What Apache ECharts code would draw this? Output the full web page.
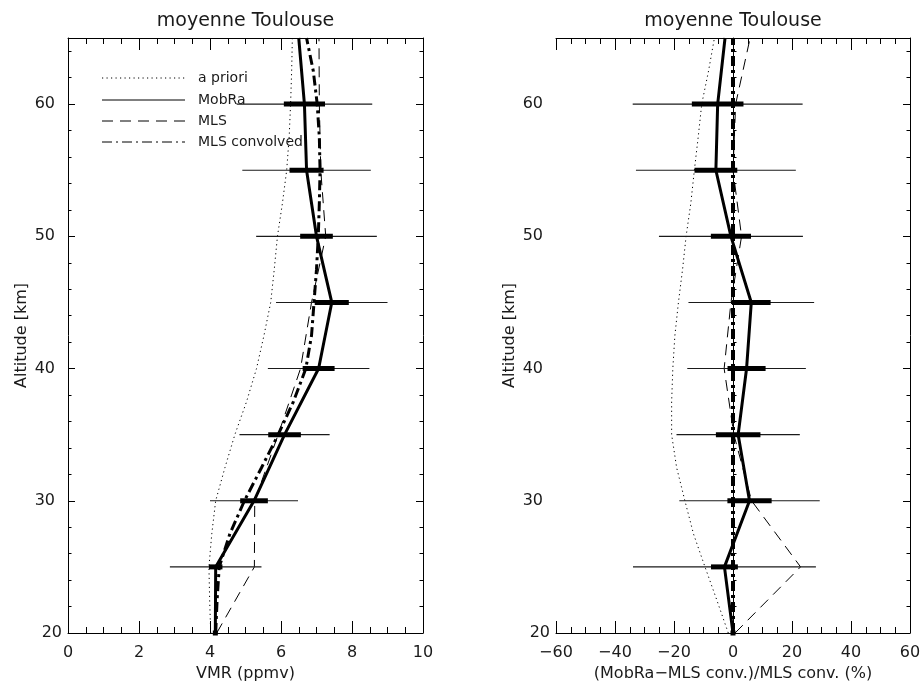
<!DOCTYPE html>
<html>
<head>
<meta charset="utf-8">
<script src="https://cdn.jsdelivr.net/npm/echarts@6/dist/echarts.min.js"></script>
<style>html,body{margin:0;padding:0;background:#fff;}#c{width:922px;height:685px;}</style>
</head>
<body>
<div id="c"></div>
<script>
// ---------------- data ----------------
const altCoarse = [20, 25, 30, 35, 40, 45, 50, 55, 60, 65];
const altFine = [20, 22.5, 25, 27.5, 30, 32.5, 35, 37.5, 40, 42.5, 45, 47.5, 50, 52.5, 55, 57.5, 60, 62.5, 65];

// left panel: VMR (ppmv)
const aprioriVmr = [4.02, 3.99, 3.97, 4.05, 4.16, 4.42, 4.70, 5.03, 5.31, 5.52, 5.71, 5.81, 5.90, 6.04, 6.16, 6.23, 6.27, 6.30, 6.32];
const mobraVmr = [4.15, 4.16, 5.24, 6.10, 7.06, 7.43, 7.00, 6.72, 6.66, 6.50];
const mlsVmr = [4.19, 5.25, 5.26, 5.92, 6.55, 6.86, 7.26, 7.12, 7.08, 7.07];
const mlsConvVmr = [4.16, 4.20, 4.26, 4.56, 4.97, 5.45, 5.92, 6.35, 6.70, 6.86, 6.93, 7.00, 7.05, 7.08, 7.10, 7.08, 7.02, 6.91, 6.72];

// error bars (half widths) at these altitudes
const errAlt = [20, 25, 30, 35, 40, 45, 50, 55, 60];
const errTotalVmr = [0, 1.29, 1.24, 1.27, 1.43, 1.57, 1.70, 1.81, 1.91];
const errRandVmr = [0, 0.19, 0.39, 0.46, 0.45, 0.48, 0.46, 0.48, 0.58];

// right panel: relative difference (%)
const aprioriPct = [-1.6, -5.5, -9.5, -13.4, -16.3, -19.1, -20.8, -20.8, -20.4, -19.7, -18.5, -17.1, -15.9, -14.3, -13.1, -11.8, -10.6, -8.3, -6.3];
const mobraPct = [0, -2.9, 5.6, 1.75, 4.6, 6.2, -0.7, -5.8, -5.2, -2.7];
const mlsPct = [0.7, 22.9, 6.3, 0.3, -3.0, -0.7, 2.9, 0.0, 0.9, 5.8];
const mlsConvPct = [0, 0, 0, 0, 0, 0, 0, 0, 0, 0];
const errTotalPct = [0, 31.0, 23.8, 20.9, 20.1, 21.3, 24.4, 27.1, 28.8];
const errRandPct = [0, 4.55, 7.5, 7.55, 6.45, 6.55, 6.8, 7.25, 8.75];

// labels
const titleText = 'moyenne Toulouse';
const yName = 'Altitude [km]';
const xNameLeft = 'VMR (ppmv)';
const xNameRight = '(MobRa\u2212MLS conv.)/MLS conv. (%)';
const legendNames = ['a priori', 'MobRa', 'MLS', 'MLS convolved'];

// ---------------- chart ----------------
const FONT = 'DejaVu Sans';
const FW = 'normal';
const INK = '#1a1a1a';
const chart = echarts.init(document.getElementById('c'), null, {renderer: 'canvas'});

const pair = (vals, alts) => vals.map((v, i) => [v, alts[i]]);
const errData = (center, tot, rnd) => errAlt.map((a, i) => [a, center[altCoarse.indexOf(a)], tot[i], rnd[i]]);

function xAxes(gridIndex, min, max, interval, name) {
  const common = {
    type: 'value', gridIndex, min, max, interval,
    axisLine: {show: true, lineStyle: {color: '#000', width: 1}},
    axisTick: {show: true, inside: true, length: 12, lineStyle: {color: '#000', width: 1}},
    minorTick: {show: true, splitNumber: 4, length: 6, lineStyle: {color: '#000', width: 1}},
    splitLine: {show: false}
  };
  return [
    Object.assign({}, common, {
      position: 'bottom',
      name, nameLocation: 'middle', nameGap: 33,
      nameTextStyle: {fontFamily: FONT, fontWeight: FW, fontSize: 16, color: INK},
      axisLabel: {show: true, margin: 12, fontFamily: FONT, fontWeight: FW, fontSize: 16, color: INK,
        formatter: v => String(v).replace('-', '\u2212')}
    }),
    Object.assign({}, common, {position: 'top', axisLabel: {show: false}})
  ];
}

function yAxes(gridIndex) {
  const base = {
    type: 'value', gridIndex, min: 20, max: 65,
    splitLine: {show: false}, minorTick: {show: false}
  };
  const major = {interval: 10, axisTick: {show: true, inside: true, length: 7, lineStyle: {color: '#000'}}};
  const minor = {interval: 2, axisLine: {show: false}, axisLabel: {show: false},
    axisTick: {show: true, inside: true, length: 3.5, lineStyle: {color: '#000'}}};
  return [
    Object.assign({}, base, major, {
      position: 'left',
      axisLine: {show: true, lineStyle: {color: '#000', width: 1}},
      name: yName, nameLocation: 'middle', nameGap: 38, nameRotate: 90,
      nameTextStyle: {fontFamily: FONT, fontWeight: FW, fontSize: 16, color: INK},
      axisLabel: {show: true, margin: 6, showMaxLabel: false, fontFamily: FONT, fontWeight: FW, fontSize: 16, color: INK,
        formatter: v => v === 20 ? '{a|20}' : '{b|' + v + '}',
        rich: {a: {fontFamily: FONT, fontWeight: FW, fontSize: 16, color: INK},
               b: {fontFamily: FONT, fontWeight: FW, fontSize: 16, color: INK, padding: [0, 7, 0, 0]}}}
    }),
    Object.assign({}, base, minor, {position: 'left'}),
    Object.assign({}, base, major, {position: 'right',
      axisLine: {show: true, lineStyle: {color: '#000', width: 1}}, axisLabel: {show: false}}),
    Object.assign({}, base, minor, {position: 'right'})
  ];
}

function lineSeries(name, data, xi, yi, style, z) {
  return {
    name, type: 'line', data, xAxisIndex: xi, yAxisIndex: yi,
    symbol: 'none', smooth: false, silent: true, animation: false, z: z || 3,
    lineStyle: Object.assign({color: '#000'}, style)
  };
}

function errSeries(data, xi, yi) {
  return {
    type: 'custom', data, xAxisIndex: xi, yAxisIndex: yi, silent: true, animation: false, z: 4,
    encode: {x: 1, y: 0},
    renderItem(params, api) {
      const alt = api.value(0), c = api.value(1), t = api.value(2), r = api.value(3);
      const pL = api.coord([c - t, alt]), pR = api.coord([c + t, alt]);
      const qL = api.coord([c - r, alt]), qR = api.coord([c + r, alt]);
      const children = [];
      if (t > 0) {
        children.push({type: 'line', shape: {x1: pL[0], y1: pL[1], x2: pR[0], y2: pR[1]},
          style: {stroke: '#1a1a1a', lineWidth: 1.1}});
      }
      const w = Math.max(qR[0] - qL[0], 5);
      const cx = (qL[0] + qR[0]) / 2;
      children.push({type: 'rect', shape: {x: cx - w / 2, y: qL[1] - 2.5, width: w, height: 5},
        style: {fill: '#000'}});
      return {type: 'group', children};
    }
  };
}

const DOT = [1.2, 3.3], DASH = [11, 7], DASHDOT = [10, 4, 3, 4];

const legendY = [78, 100, 121, 142];
const legendDash = [DOT, null, DASH, [10, 4, 2, 4]];
const graphics = [];
legendNames.forEach((n, i) => {
  graphics.push({type: 'line', z: 1, shape: {x1: 102, y1: legendY[i], x2: 185, y2: legendY[i]},
    style: {stroke: '#000', lineWidth: 1, lineDash: legendDash[i] || null}});
  graphics.push({type: 'text', z: 1, x: 198, y: legendY[i],
    style: {text: n, fontFamily: FONT, fontWeight: FW, fontSize: 14, fill: INK, align: 'left', verticalAlign: 'middle',
      textAlign: 'left', textVerticalAlign: 'middle'}});
});
[245.5, 733].forEach(cx => {
  graphics.push({type: 'text', x: cx, y: 21,
    style: {text: titleText, fontFamily: FONT, fontWeight: FW, fontSize: 19, fill: INK, align: 'center', verticalAlign: 'middle',
      textAlign: 'center', textVerticalAlign: 'middle'}});
});

const option = {
  backgroundColor: '#fff',
  animation: false,
  grid: [
    {left: 68, top: 38, width: 355, height: 595, outerBoundsMode: 'none', containLabel: false},
    {left: 556, top: 38, width: 354, height: 595, outerBoundsMode: 'none', containLabel: false}
  ],
  xAxis: [].concat(xAxes(0, 0, 10, 2, xNameLeft), xAxes(1, -60, 60, 20, xNameRight)),
  yAxis: [].concat(yAxes(0), yAxes(1)),
  graphic: {elements: graphics},
  series: [
    lineSeries('a priori', pair(aprioriVmr, altFine), 0, 0, {width: 1, type: DOT}),
    lineSeries('MLS', pair(mlsVmr, altCoarse), 0, 0, {width: 1, type: DASH}),
    lineSeries('MLS convolved', pair(mlsConvVmr, altFine), 0, 0, {width: 3, type: DASHDOT}),
    lineSeries('MobRa', pair(mobraVmr, altCoarse), 0, 0, {width: 3, type: 'solid'}),
    errSeries(errData(mobraVmr, errTotalVmr, errRandVmr), 0, 0),

    lineSeries('a priori', pair(aprioriPct, altFine), 2, 4, {width: 1, type: DOT}),
    lineSeries('MLS', pair(mlsPct, altCoarse), 2, 4, {width: 1, type: DASH}),
    lineSeries('MLS convolved', pair(mlsConvPct, altCoarse), 2, 4, {width: 4, type: DASHDOT}, 5),
    lineSeries('MobRa', pair(mobraPct, altCoarse), 2, 4, {width: 3, type: 'solid'}),
    errSeries(errData(mobraPct, errTotalPct, errRandPct), 2, 4)
  ]
};
chart.setOption(option);
</script>
</body>
</html>
